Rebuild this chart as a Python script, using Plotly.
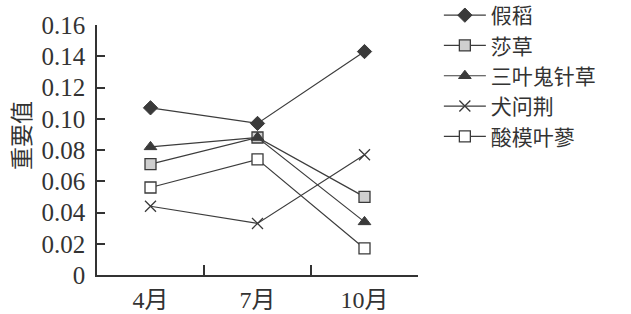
import plotly.graph_objects as go

months = ["4月", "7月", "10月"]
series_names = ["假稻", "莎草", "三叶鬼针草", "犬问荆", "酸模叶蓼"]
jiadao = [0.107, 0.097, 0.143]
shacao = [0.071, 0.088, 0.050]
sanye = [0.082, 0.088, 0.034]
quanwenjing = [0.044, 0.033, 0.077]
suanmo = [0.056, 0.074, 0.017]
y_tickvals = [0, 0.02, 0.04, 0.06, 0.08, 0.10, 0.12, 0.14, 0.16]
y_ticktext = ["0", "0.02", "0.04", "0.06", "0.08", "0.10", "0.12", "0.14", "0.16"]

LINE = "#3c3c3c"
FONT = "Liberation Serif, Noto Sans CJK SC"

styles = [
    dict(symbol="diamond", size=11, color="#3a3a3a", line=dict(color="#3a3a3a", width=1)),
    dict(symbol="square", size=11, color="#cfcfcf", line=dict(color="#3a3a3a", width=1.3)),
    dict(symbol="triangle-up", size=11, color="#3a3a3a", line=dict(color="#3a3a3a", width=1)),
    dict(symbol="x-thin", size=11, color="#3a3a3a", line=dict(color="#3a3a3a", width=1.3)),
    dict(symbol="square", size=11, color="white", line=dict(color="#3a3a3a", width=1.3)),
]
data = [jiadao, shacao, sanye, quanwenjing, suanmo]

fig = go.Figure()
for name, vals, st in zip(series_names, data, styles):
    fig.add_trace(go.Scatter(
        x=months, y=vals, name=name, mode="lines+markers",
        line=dict(color=LINE, width=1.2),
        marker=st,
    ))

fig.update_layout(
    width=631, height=314,
    margin=dict(l=97, r=213, t=25, b=39, autoexpand=False),
    paper_bgcolor="white", plot_bgcolor="white",
    font=dict(family=FONT, size=24, color="#333"),
    showlegend=True,
    legend=dict(
        x=1.065, y=1.12, xanchor="left", yanchor="top",
        font=dict(family="Noto Sans CJK SC", size=21, color="#333"),
        tracegroupgap=0, bgcolor="rgba(0,0,0,0)",
        maxheight=1.0, itemwidth=42,
    ),
    xaxis=dict(
        type="category", range=[-0.5, 2.5], tickson="boundaries",
        ticks="inside", ticklen=10, tickwidth=1.5, tickcolor="#333",
        showline=True, linecolor="#333", linewidth=1.5,
        showgrid=False, zeroline=False, ticklabelstandoff=2,
        automargin=False,
        tickfont=dict(family=FONT, size=24, color="#333"),
    ),
    yaxis=dict(
        range=[0, 0.16], tickvals=y_tickvals, ticktext=y_ticktext,
        ticks="inside", ticklen=8, tickwidth=1.5, tickcolor="#333",
        showline=True, linecolor="#333", linewidth=1.5,
        showgrid=False, zeroline=False, ticklabelstandoff=5,
        automargin=False,
        tickfont=dict(family=FONT, size=25, color="#333"),
    ),
    annotations=[dict(
        text="重要值", xref="paper", yref="paper",
        x=-0.24, y=0.56, xanchor="center", yanchor="middle",
        textangle=-90, showarrow=False,
        font=dict(family="Noto Sans CJK SC", size=23, color="#333"),
    )],
)

fig.write_html("out.html")
